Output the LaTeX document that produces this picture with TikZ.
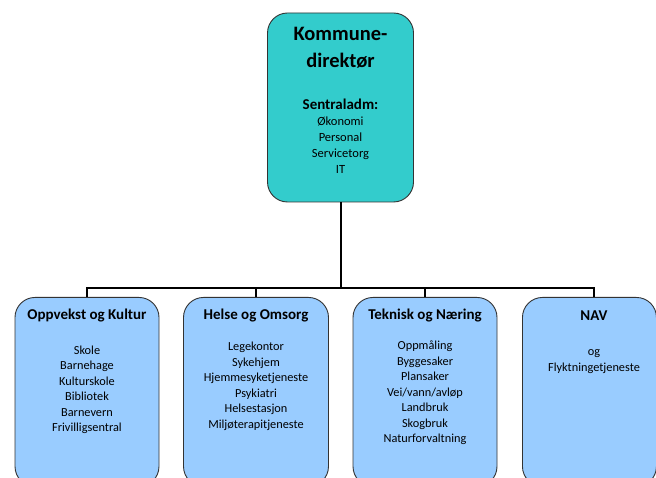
\documentclass[tikz,border=0pt]{standalone}
\usepackage{fontspec}
\setmainfont{Carlito}
\definecolor{topfill}{HTML}{33CCCC}
\definecolor{boxfill}{HTML}{99CCFF}
\definecolor{edge}{HTML}{333333}
\begin{document}
\begin{tikzpicture}[x=1pt,y=-1pt,
  topbox/.style={draw=edge,line width=0.9pt,fill=topfill,rounded corners=20pt,inner sep=0pt},
  unitbox/.style={draw=edge,line width=0.9pt,fill=boxfill,rounded corners=20pt,inner sep=0pt},
  conn/.style={line width=2pt,black},
  head/.style={font=\fontsize{15}{17}\selectfont\bfseries,anchor=center},
  items/.style={font=\fontsize{12.3}{15.5}\selectfont,align=center,anchor=north},
  titems/.style={font=\fontsize{12.5}{16}\selectfont,align=center,anchor=north},
  title/.style={font=\fontsize{20.5}{27}\selectfont\bfseries,align=center,anchor=north}]
\useasboundingbox (0,0) rectangle (656,478);
\clip (0,0) rectangle (656,478);
\fill[white] (0,0) rectangle (656,478);
% top box
\node[topbox,minimum width=146pt,minimum height=189pt] (top) at (340.5,107.5) {};
\node[title] (ttl) at (340.5,23.5) {Kommune-\\direktør};
\node[head] (sadm) at (340.5,104) {Sentraladm:};
\node[titems] (sitems) at (340.5,113) {Økonomi\\Personal\\Servicetorg\\IT};
% unit boxes
\node[unitbox,minimum width=144pt,minimum height=189pt,anchor=north] (b1) at (87,297) {};
\node[unitbox,minimum width=145pt,minimum height=189pt,anchor=north] (b2) at (256,297) {};
\node[unitbox,minimum width=144pt,minimum height=189pt,anchor=north] (b3) at (425,297) {};
\node[unitbox,minimum width=134pt,minimum height=189pt,anchor=north west] (b4) at (522,297) {};
% headers
\node[head] (h1) at (87,315.5) {Oppvekst og Kultur};
\node[head] (h2) at (256,315.5) {Helse og Omsorg};
\node[head] (h3) at (425,315.5) {Teknisk og Næring};
\node[head] (h4) at (594,315.5) {NAV};
% items
\node[items] (i1) at (87,342) {Skole\\Barnehage\\Kulturskole\\Bibliotek\\Barnevern\\Frivilligsentral};
\node[items] (i2) at (256,338.5) {Legekontor\\Sykehjem\\Hjemmesyketjeneste\\Psykiatri\\Helsestasjon\\Miljøterapitjeneste};
\node[items] (i3) at (425,337.5) {Oppmåling\\Byggesaker\\Plansaker\\Vei/vann/avløp\\Landbruk\\Skogbruk\\Naturforvaltning};
\node[items] (i4) at (594,346) {og\\Flyktningetjeneste};
% connectors
\coordinate (bus) at (340.5,288);
\coordinate (b4in) at (594,297);
\draw[conn] (top.south) -- (bus);
\draw[conn] (b1.north) |- (bus) -| (b4in);
\draw[conn] (b2.north) -- (b2.north |- bus);
\draw[conn] (b3.north) -- (b3.north |- bus);
\end{tikzpicture}
\end{document}
